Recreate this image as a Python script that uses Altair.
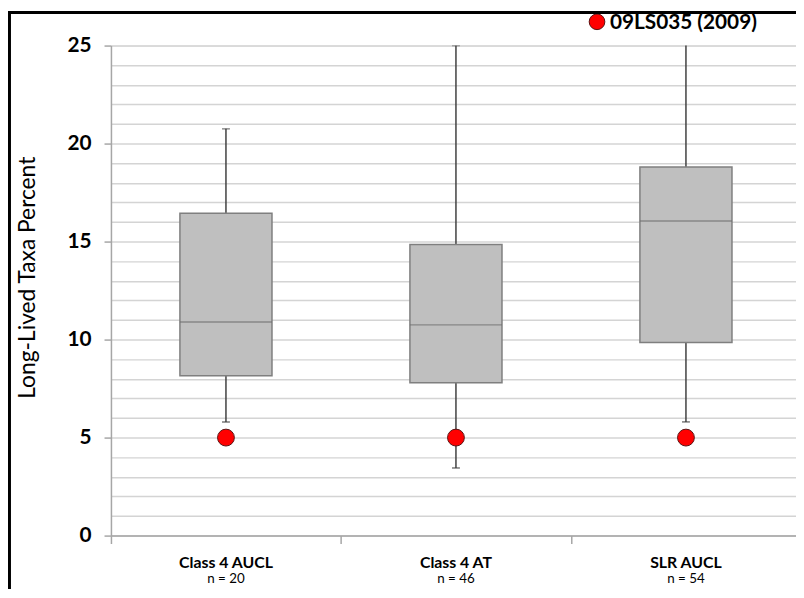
import altair as alt
import pandas as pd

categories = ["Class 4 AUCL", "Class 4 AT", "SLR AUCL"]
n_labels = ["n = 20", "n = 46", "n = 54"]
whisker_low = [5.8, 3.45, 5.8]
q1 = [8.15, 7.8, 9.85]
median = [10.9, 10.75, 16.05]
q3 = [16.45, 14.85, 18.8]
whisker_high = [20.75, 25.0, 27.0]
site_values = [5.0, 5.0, 5.0]
legend_label = ["09LS035 (2009)"]

FONT = "Lato"
PL, PT = 104, 35
W, H = 692, 495

df = pd.DataFrame({
    "cat": categories, "n": n_labels, "lo": whisker_low, "q1": q1,
    "med": median, "q3": q3, "hi": whisker_high, "site": site_values,
})
leg = pd.DataFrame({"label": legend_label})

xaxis = alt.Axis(labels=False, tickBand="extent", tickSize=8,
                 tickColor="#a6a6a6", tickWidth=1.5,
                 domainColor="#a6a6a6", domainWidth=1.5, grid=False)
xscale = alt.Scale(range=[0, 697], paddingInner=0, paddingOuter=0)


def xenc():
    return alt.X("cat:N", sort=categories, title=None, scale=xscale, axis=xaxis)


ysc = alt.Scale(domain=[0, 25], nice=False, zero=True)
yaxis = alt.Axis(
    values=list(range(0, 26)),
    labelExpr="datum.value % 5 == 0 ? datum.label : ''",
    labelOverlap=False,
    labelFont=FONT, labelFontSize=21, labelFontWeight="bold", labelColor="#000000",
    labelPadding=13,
    tickSize=7, tickColor="#a6a6a6", tickWidth=1.5,
    tickOpacity=alt.ExprRef("datum.value % 5 == 0 ? 1 : 0"),
    domainColor="#a6a6a6", domainWidth=1.5,
    grid=True, gridColor="#d4d4d4", gridWidth=1.5,
    title="Long-Lived Taxa Percent", titleFont=FONT, titleFontSize=23,
    titleFontWeight="normal", titleColor="#000000",
    titleX=-84, titleY=234, titleAngle=270, titleAlign="center",
    titleBaseline="middle",
)


def yenc(field):
    return alt.Y(f"{field}:Q", scale=ysc, axis=yaxis, title="Long-Lived Taxa Percent")


base = alt.Chart(df)

whisk = base.mark_rule(color="#404040", strokeWidth=1.5, clip=True).encode(
    x=xenc(), y=yenc("lo"), y2="hi:Q")
caps_lo = base.mark_tick(color="#404040", size=8, thickness=1.5, clip=True).encode(
    x=xenc(), y=yenc("lo"))
caps_hi = base.mark_tick(color="#404040", size=8, thickness=1.5, clip=True).encode(
    x=xenc(), y=yenc("hi"))
box = base.mark_bar(size=93, color="#bfbfbf", stroke="#7f7f7f", strokeWidth=1.5).encode(
    x=xenc(), y=yenc("q1"), y2="q3:Q")
med = base.mark_tick(size=93, thickness=1.5, color="#6f6f6f").encode(
    x=xenc(), y=yenc("med"))
dots = base.mark_point(shape="circle", filled=True, size=290, color="#ff0000",
                       stroke="#5a1010", strokeWidth=1, opacity=1).encode(
    x=xenc(), y=yenc("site"))
lab1 = base.mark_text(font=FONT, fontSize=16, fontWeight="bold", color="#000000",
                      baseline="middle").encode(
    x=xenc(), y=alt.value(523), text="cat:N")
lab2 = base.mark_text(font=FONT, fontSize=13.5, color="#000000",
                      baseline="middle").encode(
    x=xenc(), y=alt.value(539), text="n:N")

leg_dot = alt.Chart(leg).mark_point(shape="circle", filled=True, size=250, color="#ff0000",
                                    stroke="#5a1010", strokeWidth=1, opacity=1).encode(
    x=alt.value(491), y=alt.value(-24))
leg_txt = alt.Chart(leg).mark_text(font=FONT, fontSize=21, fontWeight="bold",
                                   color="#000000", align="left",
                                   baseline="middle").encode(
    x=alt.value(504), y=alt.value(-23), text="label:N")

frame_left = alt.Chart(leg).mark_rule(color="#000000", strokeWidth=3).encode(
    x=alt.value(-PL + 1.5), y=alt.value(-PT), y2=alt.value(H + 80))
frame_top = alt.Chart(leg).mark_rule(color="#000000", strokeWidth=3).encode(
    x=alt.value(-PL), x2=alt.value(W + 20), y=alt.value(-PT + 1.5))

chart = alt.layer(
    whisk, caps_lo, caps_hi, box, med, dots, lab1, lab2, leg_dot, leg_txt,
    frame_left, frame_top,
).properties(
    width=W, height=H,
    autosize=alt.AutoSizeParams(type="none"),
    padding={"left": PL, "top": PT, "right": 0, "bottom": 51},
).configure_view(stroke=None).configure(background="#ffffff")

chart.save("out.html", embed_options={"renderer": "svg", "actions": False})
